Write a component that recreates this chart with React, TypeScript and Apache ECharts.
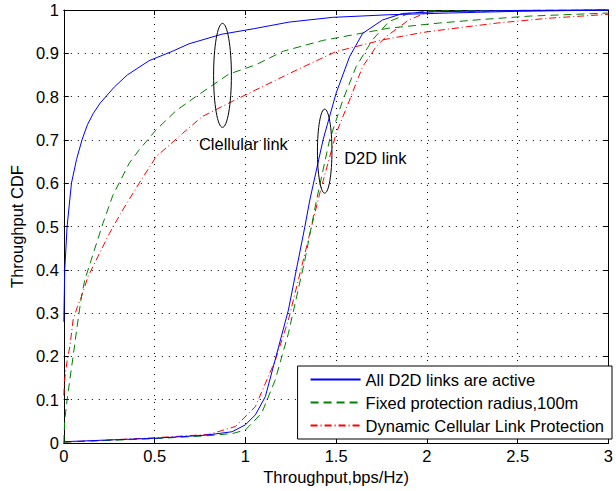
import React, { useEffect, useRef } from "react";
import * as echarts from "echarts";

// Cellular-link throughput CDF curves
const cellAllX = [0, 0.002, 0.005, 0.018, 0.042, 0.07, 0.1, 0.13, 0.162, 0.2, 0.28, 0.35, 0.47, 0.6, 0.69, 0.87, 1.05, 1.24, 1.48, 1.79, 2.12, 2.5, 3.0];
const cellAllY = [0.28, 0.33, 0.4, 0.5, 0.6, 0.655, 0.7, 0.735, 0.761, 0.785, 0.823, 0.85, 0.883, 0.905, 0.922, 0.944, 0.957, 0.972, 0.983, 0.989, 0.993, 0.997, 1.0];

const cellFixedX = [0, 0.001, 0.005, 0.018, 0.033, 0.051, 0.078, 0.097, 0.115, 0.151, 0.215, 0.27, 0.36, 0.415, 0.508, 0.617, 0.727, 0.909, 1.055, 1.21, 1.43, 1.79, 2.07, 2.3, 2.57, 3.0];
const cellFixedY = [0, 0.015, 0.053, 0.1, 0.146, 0.2, 0.284, 0.338, 0.376, 0.423, 0.507, 0.572, 0.646, 0.677, 0.723, 0.767, 0.8, 0.852, 0.873, 0.905, 0.93, 0.958, 0.97, 0.978, 0.986, 0.993];

const cellDynX = [0, 0.003, 0.011, 0.02, 0.033, 0.051, 0.075, 0.097, 0.133, 0.187, 0.251, 0.324, 0.415, 0.508, 0.654, 0.763, 0.909, 1.055, 1.3, 1.5, 1.756, 1.974, 2.12, 2.39, 2.67, 3.0];
const cellDynY = [0.11, 0.14, 0.169, 0.195, 0.222, 0.284, 0.315, 0.338, 0.384, 0.43, 0.484, 0.538, 0.6, 0.661, 0.715, 0.754, 0.785, 0.815, 0.865, 0.904, 0.931, 0.948, 0.956, 0.97, 0.981, 0.99];

// D2D-link throughput CDF curves
const d2dAllX = [0, 0.5, 0.78, 0.927, 1.0, 1.055, 1.11, 1.164, 1.237, 1.328, 1.355, 1.428, 1.5, 1.574, 1.646, 1.756, 1.866, 2.05, 2.5, 3.0];
const d2dAllY = [0.003, 0.011, 0.018, 0.026, 0.042, 0.065, 0.107, 0.192, 0.307, 0.5, 0.561, 0.7, 0.808, 0.892, 0.946, 0.977, 0.992, 0.996, 0.999, 1.0];

const d2dFixedX = [0, 0.5, 0.8, 0.93, 1.0, 1.09, 1.164, 1.237, 1.328, 1.392, 1.464, 1.537, 1.61, 1.7, 1.79, 1.9, 2.01, 3.0];
const d2dFixedY = [0.002, 0.01, 0.017, 0.022, 0.03, 0.069, 0.145, 0.253, 0.423, 0.561, 0.7, 0.792, 0.869, 0.931, 0.973, 0.992, 0.998, 1.0];

const d2dDynX = [0, 0.5, 0.8, 0.945, 1.055, 1.164, 1.237, 1.31, 1.41, 1.5, 1.574, 1.646, 1.72, 1.774, 1.9, 2.01, 3.0];
const d2dDynY = [0.002, 0.012, 0.02, 0.038, 0.084, 0.19, 0.284, 0.407, 0.577, 0.715, 0.792, 0.869, 0.915, 0.938, 0.977, 0.996, 1.0];

const seriesNames = [
  "All D2D links are active",
  "Fixed protection radius,100m",
  "Dynamic Cellular Link Protection",
];

const xTicks = { min: 0, max: 3, interval: 0.5 };
const yTicks = { min: 0, max: 1, interval: 0.1 };

// Annotation anchors in data units: [x, y, rxData, ryData]
const cellEllipse = [0.874, 0.849, 0.049, 0.12];
const d2dEllipse = [1.437, 0.674, 0.04, 0.097];
const cellLabel = { text: "Clellular link", x: 0.989, y: 0.69 };
const d2dLabel = { text: "D2D link", x: 1.716, y: 0.658 };

const FONT = "Liberation Sans, Arial, sans-serif";
const FS = 16.5;

function zip(xs: number[], ys: number[]) {
  return xs.map((x, i) => [x, ys[i]]);
}

const styles = [
  { color: "#0000ff", type: "solid" as any },
  { color: "#008000", type: [8, 5] as any },
  { color: "#ff0000", type: [7, 3, 1, 3] as any },
];

export default function App() {
  const ref = useRef<HTMLDivElement>(null);

  useEffect(() => {
    if (!ref.current) return;
    const chart = echarts.init(ref.current, null, { renderer: "svg" });

    const mkSeries = (idx: number, xs: number[], ys: number[]) => ({
      type: "line",
      name: seriesNames[idx],
      data: zip(xs, ys),
      showSymbol: false,
      symbol: "none",
      smooth: false,
      clip: false,
      lineStyle: { width: 1, color: styles[idx].color, type: styles[idx].type },
      itemStyle: { color: styles[idx].color },
      z: 3 - idx,
    });

    const gridLine = { show: true, lineStyle: { color: "#000", type: [1, 6], width: 1 } };
    const boxLine = { show: true, onZero: false, lineStyle: { color: "#000", width: 1 } };
    const inTick = { show: true, inside: true, length: 5, lineStyle: { color: "#000" } };

    chart.setOption({
      animation: false,
      backgroundColor: "#fff",
      textStyle: { fontFamily: FONT },
      grid: { left: 62, right: 4, top: 10, bottom: 48, containLabel: false },
      xAxis: [
        {
          type: "value",
          ...xTicks,
          name: "Throughput,bps/Hz)",
          nameLocation: "middle",
          nameGap: 15,
          nameTextStyle: { fontSize: FS, color: "#000", fontFamily: FONT },
          axisLine: boxLine,
          axisTick: inTick,
          axisLabel: { fontSize: FS, color: "#000", margin: 4, fontFamily: FONT },
          splitLine: gridLine,
        },
        {
          type: "value",
          ...xTicks,
          position: "top",
          axisLine: boxLine,
          axisTick: inTick,
          axisLabel: { show: false },
          splitLine: { show: false },
        },
      ],
      yAxis: [
        {
          type: "value",
          ...yTicks,
          name: "Throughput CDF",
          nameLocation: "middle",
          nameGap: 37,
          nameTextStyle: { fontSize: FS, color: "#000", fontFamily: FONT },
          axisLine: boxLine,
          axisTick: inTick,
          axisLabel: { fontSize: FS, color: "#000", margin: 5, fontFamily: FONT },
          splitLine: gridLine,
        },
        {
          type: "value",
          ...yTicks,
          position: "right",
          axisLine: boxLine,
          axisTick: inTick,
          axisLabel: { show: false },
          splitLine: { show: false },
        },
      ],
      legend: {
        data: seriesNames,
        orient: "vertical",
        right: 4,
        bottom: 52,
        itemWidth: 50,
        itemHeight: 14,
        itemGap: 6,
        padding: [5, 8, 5, 12],
        backgroundColor: "#fff",
        borderColor: "#000",
        borderWidth: 1,
        borderRadius: 0,
        itemStyle: { opacity: 0 },
        textStyle: { fontSize: FS, color: "#000", fontFamily: FONT },
        selectedMode: false,
      },
      series: [
        mkSeries(0, cellAllX, cellAllY),
        mkSeries(1, cellFixedX, cellFixedY),
        mkSeries(2, cellDynX, cellDynY),
        mkSeries(0, d2dAllX, d2dAllY),
        mkSeries(1, d2dFixedX, d2dFixedY),
        mkSeries(2, d2dDynX, d2dDynY),
      ],
    });

    // Ellipses and callout labels placed through the grid's coordinate system
    const px = (x: number, y: number) => chart.convertToPixel({ gridIndex: 0 }, [x, y]) as number[];
    const ellipse = (e: number[]) => {
      const c = px(e[0], e[1]);
      const edge = px(e[0] + e[2], e[1] + e[3]);
      return {
        type: "ellipse",
        shape: { cx: c[0], cy: c[1], rx: Math.abs(edge[0] - c[0]), ry: Math.abs(edge[1] - c[1]) },
        style: { fill: "none", stroke: "#000", lineWidth: 1 },
        z: 10,
      };
    };
    const label = (l: { text: string; x: number; y: number }) => {
      const p = px(l.x, l.y);
      return {
        type: "text",
        x: p[0],
        y: p[1],
        style: {
          text: l.text,
          fontSize: FS,
          fontFamily: FONT,
          fill: "#000",
          align: "center",
          verticalAlign: "middle",
        },
        z: 10,
      };
    };
    chart.setOption({
      graphic: [ellipse(cellEllipse), ellipse(d2dEllipse), label(cellLabel), label(d2dLabel)],
    });

    return () => chart.dispose();
  }, []);

  return (
    <div
      ref={ref}
      style={{ position: "fixed", left: 0, top: 0, width: 616, height: 491 }}
    />
  );
}
